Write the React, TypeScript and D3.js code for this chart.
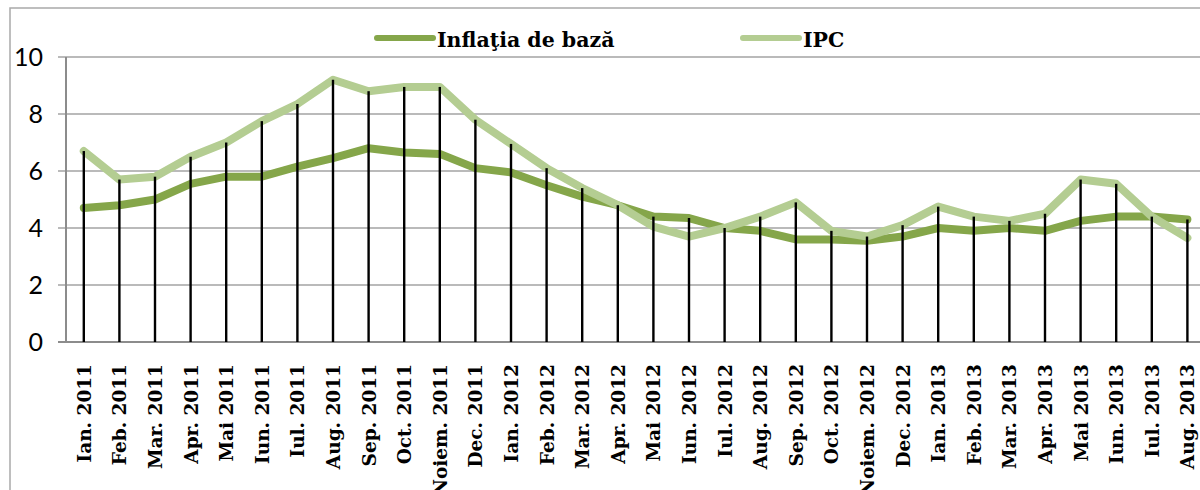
import * as d3 from 'd3';

const months = [
  'Ian. 2011', 'Feb. 2011', 'Mar. 2011', 'Apr. 2011', 'Mai 2011', 'Iun. 2011', 'Iul. 2011', 'Aug. 2011',
  'Sep. 2011', 'Oct. 2011', 'Noiem. 2011', 'Dec. 2011', 'Ian. 2012', 'Feb. 2012', 'Mar. 2012', 'Apr. 2012',
  'Mai 2012', 'Iun. 2012', 'Iul. 2012', 'Aug. 2012', 'Sep. 2012', 'Oct. 2012', 'Noiem. 2012', 'Dec. 2012',
  'Ian. 2013', 'Feb. 2013', 'Mar. 2013', 'Apr. 2013', 'Mai 2013', 'Iun. 2013', 'Iul. 2013', 'Aug. 2013',
];

// Inflaţia de bază
const core = [
  4.7, 4.8, 5.0, 5.55, 5.8, 5.8, 6.15, 6.45, 6.8, 6.65, 6.6, 6.1, 5.95, 5.5, 5.1, 4.8,
  4.4, 4.35, 4.0, 3.9, 3.6, 3.6, 3.55, 3.7, 4.0, 3.9, 4.0, 3.9, 4.25, 4.4, 4.4, 4.3,
];

// IPC
const cpi = [
  6.7, 5.7, 5.8, 6.5, 7.0, 7.75, 8.35, 9.2, 8.8, 8.95, 8.95, 7.8, 6.95, 6.1, 5.4, 4.8,
  4.05, 3.7, 4.0, 4.4, 4.9, 3.9, 3.7, 4.1, 4.75, 4.4, 4.25, 4.5, 5.7, 5.55, 4.4, 3.65,
];

const yTicks = [0, 2, 4, 6, 8, 10];

const legendItems = [
  { name: 'Inflaţia de bază', color: '#85a64a', x: 377 },
  { name: 'IPC', color: '#b4cd92', x: 743 },
];

export default function App() {
  const x = d3.scaleBand<string>().domain(months).range([66, 66 + 32 * 35.6]);
  const y = d3.scaleLinear().domain([0, 10]).range([342, 57]);
  const cx = (i: number) => (x(months[i]) as number) + x.bandwidth() / 2;

  const line = d3.line<number>()
    .x((_, i) => cx(i))
    .y(d => y(d));

  return (
    <svg width={1200} height={490} style={{ position: 'absolute', left: 0, top: 0, background: '#fff' }}>
      <rect x={10} y={8} width={1250} height={520} fill="none" stroke="#a9a9a9" strokeWidth={1.5} />

      {/* gridlines */}
      {yTicks.map(t => (
        <line key={t} x1={58} x2={1206} y1={y(t)} y2={y(t)}
          stroke={t === 0 ? '#8c8c8c' : '#a3a3a3'} strokeWidth={t === 0 ? 2.2 : 1.5} />
      ))}
      <line x1={66} x2={66} y1={y(10)} y2={y(0)} stroke="#8c8c8c" strokeWidth={2} />

      {yTicks.map(t => (
        <text key={t} x={43} y={y(t)} dy="0.36em" textAnchor="end"
          fontFamily="Lato, 'Open Sans', sans-serif" fontSize={25} fill="#000">{t}</text>
      ))}

      {/* series */}
      <path d={line(core) || ''} fill="none" stroke="#85a64a" strokeWidth={8}
        strokeLinejoin="round" strokeLinecap="round" />
      <path d={line(cpi) || ''} fill="none" stroke="#b4cd92" strokeWidth={8}
        strokeLinejoin="round" strokeLinecap="round" />

      {/* drop lines */}
      {months.map((m, i) => (
        <line key={m} x1={cx(i)} x2={cx(i)} y1={y(Math.max(core[i], cpi[i]))} y2={y(0)}
          stroke="#000" strokeWidth={2.4} />
      ))}

      {/* x labels */}
      {months.map((m, i) => (
        <text key={m} transform={`translate(${cx(i) + 7},364) rotate(-90)`} textAnchor="end"
          fontFamily="'DejaVu Serif', serif" fontWeight="bold" fontSize={18.5} fill="#000">{m}</text>
      ))}

      {/* legend */}
      {legendItems.map(d => (
        <g key={d.name}>
          <line x1={d.x} x2={d.x + 56} y1={38} y2={38} stroke={d.color} strokeWidth={6} strokeLinecap="round" />
          <text x={d.x + 60} y={47} fontFamily="'DejaVu Serif', serif" fontWeight="bold"
            fontSize={20.5} fill="#000">{d.name}</text>
        </g>
      ))}
    </svg>
  );
}
